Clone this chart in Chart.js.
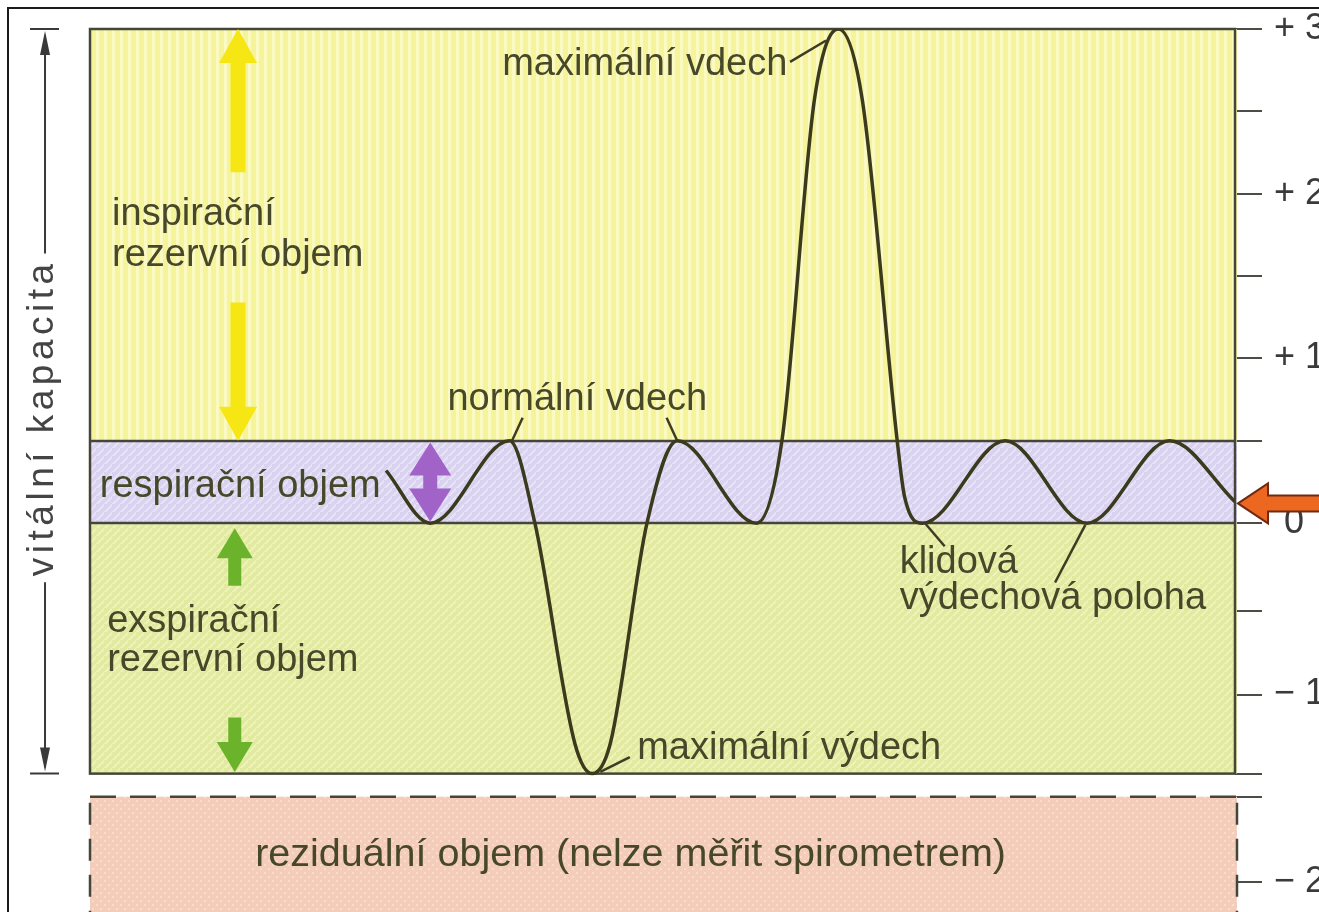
<!DOCTYPE html>
<html lang="cs">
<head>
<meta charset="utf-8">
<title>Spirogram</title>
<script src="https://cdn.jsdelivr.net/npm/chart.js@4.4.1/dist/chart.umd.min.js"></script>
<style>
  html, body { margin: 0; padding: 0; background: #fff; overflow: hidden; }
  #wrap { position: relative; width: 1319px; height: 912px; }
  #frame { position: absolute; left: 7px; top: 7px; width: 1400px; height: 1000px; border: 2px solid #1b1b1b; }
  #spiro { position: absolute; left: 0; top: 0; }
</style>
</head>
<body>
<div id="wrap">
  <div id="frame"></div>
  <canvas id="spiro" width="1319" height="912"></canvas>
</div>
<script>
// spirogram curve (time in breath half-cycles, volume in litres)
const breathTime = [3.62, 4.16, 5.13, 5.44, 5.93, 6.14, 6.36, 6.81, 7.18, 8.15, 8.46, 8.86, 9.15, 9.44, 9.87, 9.96, 10.18, 11.19, 12.19, 13.2, 14];
const breathVolume = [0.32, 0, 0.5, 0, -1.34, -1.52, -1.34, 0, 0.5, 0, 0.5, 2.58, 3.0, 2.58, 0.5, 0.16, 0, 0.5, 0, 0.5, 0.13];

// right hand scale
const yTicks = [-2.18, -1.66, -1.52, -1.04, -0.53, 0, 0.5, 1, 1.5, 2, 2.5, 3];
const yTickLabels = ['\u2212 2', '', '', '\u2212 1', '', ' 0', '', '+ 1', '', '+ 2', '', '+ 3'];

// volume bands (top, bottom) in litres
const bandNames = ['inspiracni', 'respiracni', 'exspiracni', 'rezidualni'];
const bandTop = [3, 0.5, 0, -1.66];
const bandBottom = [0.5, 0, -1.52, -2.6];

const Y_MAX = 3;
const Y_MIN = -2.36;
const T_MAX = 14;

const TEXT_FONT = '38px "Liberation Sans", Arial, sans-serif';
const TEXT_COLOR = '#47472a';
const LINE_COLOR = '#45453a';

const bandStyles = {
  inspiracni: { base: '#f6f49a', stripe: '#fbfac2', kind: 'vertical' },
  respiracni: { base: '#d9d3ef', stripe: '#e7e2f6', kind: 'diagonal' },
  exspiracni: { base: '#e2eaa2', stripe: '#edf2bd', kind: 'diagonal' },
  rezidualni: { base: '#f4ccba', stripe: '#f9dccf', kind: 'dots' }
};

function makePattern(ctx, st) {
  const c = document.createElement('canvas');
  c.width = 8; c.height = 8;
  const g = c.getContext('2d');
  g.fillStyle = st.base;
  g.fillRect(0, 0, 8, 8);
  g.fillStyle = st.stripe;
  if (st.kind === 'vertical') {
    g.fillRect(0, 0, 3, 8);
  } else if (st.kind === 'diagonal') {
    for (let i = 0; i < 8; i++) g.fillRect(i, 7 - i, 3, 1);
  } else {
    g.fillRect(0, 0, 2, 2);
    g.fillRect(4, 4, 2, 2);
  }
  return ctx.createPattern(c, 'repeat');
}

// labels in data units: [text, t, v, font size]
const labels = [
  ['maximální vdech', 5.04, 2.72, 38],
  ['inspirační', 0.27, 1.81, 38],
  ['rezervní objem', 0.27, 1.56, 38],
  ['normální vdech', 4.37, 0.69, 38],
  ['respirační objem', 0.12, 0.16, 38],
  ['exspirační', 0.21, -0.66, 38],
  ['rezervní objem', 0.21, -0.9, 38],
  ['maximální výdech', 6.69, -1.43, 38],
  ['klidová', 9.9, -0.3, 38],
  ['výdechová poloha', 9.9, -0.52, 38],
  ['reziduální objem (nelze měřit spirometrem)', 2.02, -2.08, 39.5]
];

// leader lines [t0, v0, t1, v1]
const leaders = [
  [8.56, 2.8, 9.0, 2.93],
  [5.29, 0.64, 5.16, 0.5],
  [7.05, 0.64, 7.18, 0.5],
  [6.6, -1.42, 6.24, -1.51],
  [10.21, 0, 10.45, -0.14],
  [12.17, -0.01, 11.8, -0.36]
];

// vertical arrows: t, tail v, tip v, head length, head width, shaft width, colour, double
const arrows = [
  [1.81, 2.13, 3.0, 34, 38, 15, '#f6e614', false],
  [1.81, 1.34, 0.5, 34, 38, 15, '#f6e614', false],
  [4.16, 0.49, 0.01, 33, 42, 14, '#a263c9', true],
  [1.77, -0.38, -0.03, 30, 36, 13, '#6cb32c', false],
  [1.77, -1.18, -1.51, 30, 36, 13, '#6cb32c', false]
];

function vArrow(ctx, x, y0, y1, hl, hw, sw, color, both) {
  const d = Math.sign(y1 - y0);
  ctx.fillStyle = color;
  ctx.beginPath();
  ctx.moveTo(x, y1);
  ctx.lineTo(x + hw / 2, y1 - d * hl);
  ctx.lineTo(x + sw / 2, y1 - d * hl);
  if (both) {
    ctx.lineTo(x + sw / 2, y0 + d * hl);
    ctx.lineTo(x + hw / 2, y0 + d * hl);
    ctx.lineTo(x, y0);
    ctx.lineTo(x - hw / 2, y0 + d * hl);
    ctx.lineTo(x - sw / 2, y0 + d * hl);
  } else {
    ctx.lineTo(x + sw / 2, y0);
    ctx.lineTo(x - sw / 2, y0);
  }
  ctx.lineTo(x - sw / 2, y1 - d * hl);
  ctx.lineTo(x - hw / 2, y1 - d * hl);
  ctx.closePath();
  ctx.fill();
}

const bandsPlugin = {
  id: 'bands',
  beforeDatasetsDraw(chart) {
    const { ctx, scales: { x, y } } = chart;
    const left = x.getPixelForValue(0);
    const right = x.getPixelForValue(T_MAX);
    ctx.save();
    bandNames.forEach((name, i) => {
      const top = y.getPixelForValue(bandTop[i]);
      const bottom = y.getPixelForValue(bandBottom[i]);
      ctx.fillStyle = makePattern(ctx, bandStyles[name]);
      ctx.fillRect(left, top, right - left + 2, bottom - top);
    });

    // solid outline of the measurable part
    ctx.strokeStyle = LINE_COLOR;
    ctx.lineWidth = 2.5;
    const yTop = y.getPixelForValue(bandTop[0]);
    const yErv = y.getPixelForValue(bandBottom[2]);
    ctx.strokeRect(left, yTop, right - left, yErv - yTop);
    [bandTop[1], bandTop[2]].forEach(v => {
      const py = Math.round(y.getPixelForValue(v));
      ctx.beginPath();
      ctx.moveTo(left, py);
      ctx.lineTo(right, py);
      ctx.stroke();
    });

    // dashed residual box
    const yRes = y.getPixelForValue(bandTop[3]);
    ctx.setLineDash([26, 14]);
    ctx.beginPath();
    ctx.moveTo(left, yRes);
    ctx.lineTo(right + 2, yRes);
    ctx.stroke();
    ctx.setLineDash([22, 14]);
    ctx.beginPath();
    ctx.moveTo(left, yRes + 6);
    ctx.lineTo(left, chart.height);
    ctx.moveTo(right + 2, yRes + 6);
    ctx.lineTo(right + 2, chart.height);
    ctx.stroke();
    ctx.restore();
  },
  afterDatasetsDraw(chart) {
    const { ctx, scales: { x, y } } = chart;
    const X = v => x.getPixelForValue(v);
    const Y = v => y.getPixelForValue(v);
    ctx.save();

    // leader lines
    ctx.strokeStyle = '#3e3c22';
    ctx.lineWidth = 2.5;
    leaders.forEach(([t0, v0, t1, v1]) => {
      ctx.beginPath();
      ctx.moveTo(X(t0), Y(v0));
      ctx.lineTo(X(t1), Y(v1));
      ctx.stroke();
    });

    // arrows
    arrows.forEach(([t, v0, v1, hl, hw, sw, c, both]) => {
      vArrow(ctx, X(t), Y(v0), Y(v1), hl, hw, sw, c, both);
    });

    // orange arrow to resting level
    const tipX = X(T_MAX) + 3;
    const tipY = Y(0.12);
    ctx.beginPath();
    ctx.moveTo(tipX, tipY);
    ctx.lineTo(tipX + 30, tipY - 20);
    ctx.lineTo(tipX + 30, tipY - 8);
    ctx.lineTo(chart.width + 10, tipY - 8);
    ctx.lineTo(chart.width + 10, tipY + 8);
    ctx.lineTo(tipX + 30, tipY + 8);
    ctx.lineTo(tipX + 30, tipY + 20);
    ctx.closePath();
    ctx.fillStyle = '#ec671f';
    ctx.fill();
    ctx.strokeStyle = '#6e2a12';
    ctx.lineWidth = 2;
    ctx.stroke();

    // texts
    ctx.fillStyle = TEXT_COLOR;
    ctx.textAlign = 'left';
    ctx.textBaseline = 'alphabetic';
    labels.forEach(([s, t, v, size]) => {
      ctx.font = TEXT_FONT.replace('38px', size + 'px');
      ctx.fillText(s, X(t), Y(v));
    });

    // vital capacity bracket on the left
    const bx = X(-0.55);
    const bTop = Y(bandTop[0]);
    const bBot = Y(bandBottom[2]);
    const bMid = Y(0.64);
    ctx.font = '37px "Liberation Sans", Arial, sans-serif';
    ctx.letterSpacing = '4.5px';
    const half = ctx.measureText('vitální kapacita').width / 2 + 6;
    ctx.strokeStyle = '#3a3a3a';
    ctx.lineWidth = 2;
    ctx.beginPath();
    ctx.moveTo(bx, bTop + 6);
    ctx.lineTo(bx, bMid - half);
    ctx.moveTo(bx, bMid + half);
    ctx.lineTo(bx, bBot - 6);
    ctx.moveTo(bx - 15, bTop);
    ctx.lineTo(bx + 14, bTop);
    ctx.moveTo(bx - 15, bBot);
    ctx.lineTo(bx + 14, bBot);
    ctx.stroke();
    ctx.fillStyle = '#3a3a3a';
    [[bTop + 2, 1], [bBot - 2, -1]].forEach(([py, d]) => {
      ctx.beginPath();
      ctx.moveTo(bx, py);
      ctx.lineTo(bx + 5, py + d * 24);
      ctx.lineTo(bx - 5, py + d * 24);
      ctx.closePath();
      ctx.fill();
    });
    ctx.translate(bx + 8, bMid);
    ctx.rotate(-Math.PI / 2);
    ctx.textAlign = 'center';
    ctx.fillStyle = '#444';
    ctx.fillText('vitální kapacita', 0, 0);
    ctx.restore();
  }
};

const canvas = document.getElementById('spiro');
new Chart(canvas.getContext('2d'), {
  type: 'line',
  data: {
    datasets: [
      {
        label: 'objem',
        data: breathTime.map((t, i) => ({ x: t, y: breathVolume[i] })),
        borderColor: '#3b3a1d',
        borderWidth: 3.5,
        pointRadius: 0,
        cubicInterpolationMode: 'monotone',
        fill: false
      }
    ]
  },
  options: {
    responsive: false,
    animation: false,
    devicePixelRatio: 1,
    layout: { padding: { left: 90, top: 29, right: 0, bottom: 0 } },
    plugins: {
      legend: { display: false },
      tooltip: { enabled: false }
    },
    scales: {
      x: { type: 'linear', min: 0, max: T_MAX, display: false },
      y: {
        position: 'right',
        min: Y_MIN,
        max: Y_MAX,
        border: { display: false },
        grid: {
          drawOnChartArea: false,
          drawTicks: true,
          tickLength: 27,
          color: '#4d4d48',
          lineWidth: 2
        },
        ticks: {
          autoSkip: false,
          padding: 12,
          color: '#3a3a3a',
          font: { family: '"Liberation Sans", Arial, sans-serif', size: 36 },
          callback(value, index) {
            return yTickLabels[index];
          }
        },
        afterBuildTicks(scale) {
          scale.ticks = yTicks.map(v => ({ value: v }));
        },
        afterFit(scale) {
          scale.width = 84;
          scale.paddingTop = 0;
          scale.paddingBottom = 0;
        }
      }
    }
  },
  plugins: [bandsPlugin]
});
</script>
</body>
</html>
